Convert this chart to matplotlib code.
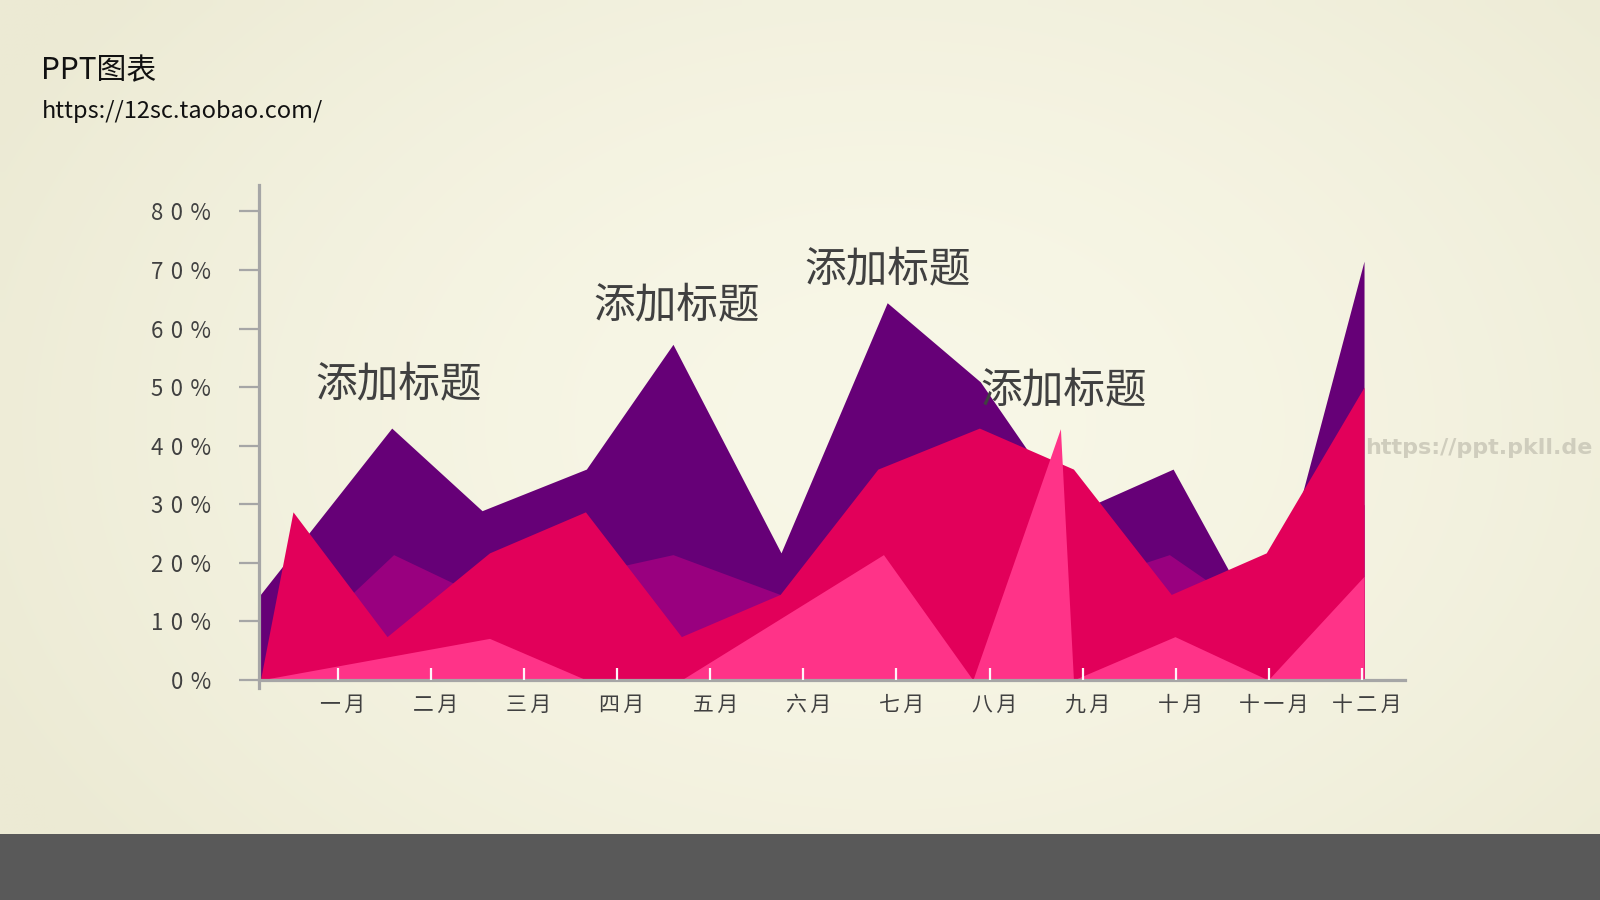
import numpy as np
import matplotlib
matplotlib.use('Agg')
import matplotlib.pyplot as plt
from matplotlib.patches import Rectangle
import matplotlib.transforms as mtransforms

plt.rcParams['font.family'] = ['Noto Sans CJK SC', 'DejaVu Sans']

# ---------------- data ----------------
months = ['一月', '二月', '三月', '四月', '五月', '六月',
          '七月', '八月', '九月', '十月', '十一月', '十二月']
month_pos = [1, 2, 3, 4, 5, 6, 7, 8, 9, 10, 11, 12]
y_ticks = [0, 10, 20, 30, 40, 50, 60, 70, 80]
y_tick_labels = ['0%', '10%', '20%', '30%', '40%', '50%', '60%', '70%', '80%']

# series 1 (dark purple)
purple_x = [0.17, 1.58, 2.55, 3.67, 4.60, 5.76, 6.90, 7.90, 8.88, 9.97, 10.56, 10.95, 12.02]
purple_y = [14.6, 43.0, 28.9, 36.0, 57.3, 21.7, 64.4, 50.9, 28.3, 36.0, 18.9, 7.4, 71.5]

# series 2 (medium purple)
violet_x = [0.17, 1.60, 2.55, 4.60, 5.75, 6.80, 7.89, 8.90, 9.93, 10.97, 12.02]
violet_y = [0.0, 21.4, 14.2, 21.4, 14.6, 20.0, 22.0, 16.0, 21.4, 10.0, 30.0]

# series 3 (crimson)
crimson_x = [0.17, 0.52, 1.53, 2.63, 3.66, 4.69, 5.75, 6.80, 7.89, 8.90, 9.95, 10.97, 12.02]
crimson_y = [0.0, 28.7, 7.4, 21.7, 28.7, 7.4, 14.6, 36.0, 43.0, 36.0, 14.6, 21.7, 50.0]

# series 4 (pink)
pink_x = [0.17, 2.63, 3.67, 4.69, 6.86, 7.82, 8.76, 8.90, 9.99, 10.99, 12.02]
pink_y = [0.0, 7.1, 0.0, 0.0, 21.4, 0.0, 42.9, 0.0, 7.4, 0.0, 17.7]

titles = ['添加标题', '添加标题', '添加标题', '添加标题']
title_pos = [(1.66, 50.4), (4.64, 63.9), (6.91, 70.1), (8.80, 49.4)]

SP_X = '\u2006'  # letter spacing in month labels
SP_Y = '\u2004'  # letter spacing in percent labels

# ---------------- figure ----------------
W, H = 1600, 900
fig = plt.figure(figsize=(16, 9), dpi=100)

# background gradient
bg = fig.add_axes([0, 0, 1, 1], zorder=-10)
bg.set_axis_off()
gy, gx = np.mgrid[0:90, 0:160]
d = np.sqrt(((gx - 88) / 100.0) ** 2 + ((gy - 42) / 70.0) ** 2)
d = np.clip(d, 0, 1)
light = np.array([248, 247, 231]) / 255.0
dark = np.array([236, 234, 212]) / 255.0
img = light[None, None, :] * (1 - d[..., None] ** 1.6) + dark[None, None, :] * (d[..., None] ** 1.6)
bg.imshow(img, extent=[0, 1, 0, 1], aspect='auto', interpolation='bilinear', origin='upper')
bg.add_patch(Rectangle((0, 0), 1, 66 / H, transform=bg.transAxes, color='#595959', lw=0))
bg.set_xlim(0, 1)
bg.set_ylim(0, 1)

# main axes
x_left_px, x_right_px = 259, 1405
y_top_px, y_bot_px = 185, 688
ax = fig.add_axes([x_left_px / W, (H - y_bot_px) / H,
                   (x_right_px - x_left_px) / W, (y_bot_px - y_top_px) / H])
ax.set_facecolor('none')
ax.set_xlim(0.155, 12.46)
ax.set_ylim(-1.37, 84.5)
ax.set_axisbelow(False)

ax.fill_between(purple_x, 0, purple_y, color='#660077', lw=0, zorder=1)
ax.fill_between(violet_x, 0, violet_y, color='#99007F', lw=0, zorder=1.1)
ax.fill_between(crimson_x, 0, crimson_y, color='#E2005A', lw=0, zorder=1.2)
ax.fill_between(pink_x, 0, pink_y, color='#FF3388', lw=0, zorder=1.3)

for s in ['top', 'right']:
    ax.spines[s].set_visible(False)
ax.spines['bottom'].set_position(('data', 0))
for s in ['left', 'bottom']:
    ax.spines[s].set_color('#A6A6A6')
    ax.spines[s].set_linewidth(2.3)

ax.set_xticks(month_pos)
ax.set_xticklabels([SP_X.join(m) for m in months])
ax.tick_params(axis='x', direction='in', length=8.5, width=1.6, color='#FFF4FA',
               pad=10, labelsize=15, labelcolor='#404040')
offset = mtransforms.ScaledTranslation(5 / 100, 0, fig.dpi_scale_trans)
for lbl in ax.get_xticklabels():
    lbl.set_transform(lbl.get_transform() + offset)

ax.set_yticks(y_ticks)
ax.set_yticklabels([SP_Y.join(t) for t in y_tick_labels])
ax.tick_params(axis='y', direction='out', length=14.5, width=1.6, color='#A6A6A6',
               pad=20, labelsize=16, labelcolor='#404040')

for t, (tx, ty) in zip(titles, title_pos):
    ax.text(tx, ty, t, fontsize=30, color='#404040', ha='center', va='center', zorder=5)

# header texts
fig.text(41 / W, 1 - 79.5 / H, 'PPT图表', fontsize=21.5, color='#111111', va='baseline', ha='left')
fig.text(42 / W, 1 - 118.5 / H, 'https://12sc.taobao.com/', fontsize=17, color='#111111',
         va='baseline', ha='left')

# watermark
fig.text(1365 / W, 1 - 448 / H, 'https://ppt.pkll.de', fontsize=16, fontweight='bold',
         color='#CFCDBD', va='center', ha='left', family='DejaVu Sans')

fig.savefig('out.png', dpi=100)
